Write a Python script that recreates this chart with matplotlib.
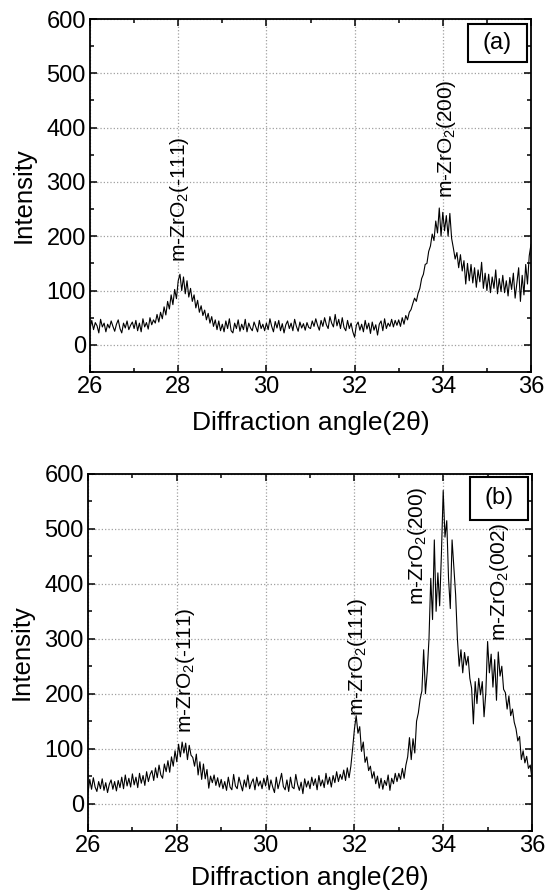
import matplotlib
matplotlib.use("Agg")
import matplotlib.pyplot as plt
import numpy as np
from matplotlib.patches import Rectangle
from matplotlib.ticker import MultipleLocator

plt.rcParams["font.family"] = ["Liberation Sans", "DejaVu Sans"]
plt.rcParams["mathtext.default"] = "regular"

# 2-theta grid, 0.04 deg step from 26 to 36
ANGLE_START, ANGLE_STEP = 26.0, 0.04

# panel (a) intensities, one row per degree
Y_A = [
    30, 45, 28, 41, 35, 22, 47, 33, 40, 24, 38, 31, 44, 34, 25, 38, 46, 30, 22, 40, 31, 44, 28, 36, 42,
    30, 45, 26, 40, 24, 48, 33, 41, 29, 50, 37, 46, 40, 56, 42, 60, 48, 70, 55, 80, 66, 92, 74, 102, 85,
    118, 130, 100, 125, 94, 118, 88, 104, 80, 92, 68, 82, 60, 72, 54, 64, 46, 58, 40, 52, 34, 46, 28, 44, 26,
    38, 24, 44, 30, 48, 26, 22, 40, 30, 46, 25, 38, 28, 47, 24, 40, 31, 26, 42, 33, 24, 45, 30, 38, 26,
    40, 28, 48, 34, 24, 43, 31, 45, 26, 39, 22, 37, 44, 30, 40, 26, 47, 34, 25, 42, 31, 39, 27, 41, 32,
    30, 44, 34, 48, 36, 27, 45, 34, 50, 37, 30, 52, 40, 33, 56, 35, 47, 30, 50, 32, 26, 45, 30, 40, 24,
    14, 36, 42, 27, 38, 24, 45, 29, 40, 21, 42, 27, 37, 18, 38, 44, 26, 48, 30, 40, 34, 47, 33, 45, 36,
    46, 34, 50, 38, 54, 46, 60, 65, 76, 86, 80, 95, 104, 122, 130, 148, 150, 172, 182, 204, 192, 228, 206, 252, 200,
    244, 210, 238, 200, 242, 196, 178, 158, 170, 142, 166, 136, 155, 112, 150, 118, 148, 114, 142, 106, 138, 116, 152, 104, 132,
    100, 130, 96, 125, 104, 138, 94, 122, 98, 128, 96, 118, 90, 124, 102, 132, 86, 114, 142, 80, 128, 92, 148, 112, 164,
    185,
]

# panel (b) intensities
Y_B = [
    20, 44, 26, 47, 30, 22, 40, 27, 45, 24, 38, 20, 35, 43, 26, 40, 23, 42, 29, 48, 27, 52, 32, 46, 30,
    54, 34, 48, 29, 55, 37, 51, 33, 58, 40, 53, 60, 42, 65, 47, 70, 52, 46, 72, 58, 78, 57, 85, 68, 96,
    76, 108, 85, 112, 92, 110, 80, 106, 88, 84, 68, 90, 52, 76, 44, 72, 45, 62, 28, 50, 38, 52, 33, 47, 30,
    44, 27, 40, 24, 48, 30, 25, 53, 32, 27, 48, 35, 23, 43, 30, 52, 27, 38, 45, 25, 48, 32, 41, 27, 46,
    32, 51, 25, 43, 30, 20, 48, 27, 40, 55, 31, 25, 43, 22, 48, 30, 27, 53, 35, 24, 39, 18, 45, 30, 41,
    27, 48, 33, 45, 25, 51, 32, 43, 29, 55, 35, 48, 30, 51, 38, 58, 40, 53, 44, 61, 42, 65, 47, 68, 100,
    135, 160, 128, 140, 95, 112, 75, 85, 60, 68, 46, 58, 36, 50, 28, 46, 26, 42, 33, 52, 24, 46, 36, 55, 40,
    55, 44, 64, 46, 70, 85, 120, 80, 118, 92, 150, 165, 190, 205, 280, 200, 240, 300, 410, 335, 480, 350, 420, 360, 455,
    570, 485, 515, 410, 355, 480, 430, 380, 300, 250, 280, 238, 275, 252, 268, 228, 210, 145, 222, 182, 228, 198, 222, 158, 202,
    295, 238, 272, 212, 262, 188, 276, 232, 250, 208, 202, 172, 196, 160, 172, 148, 136, 114, 122, 80, 96, 74, 86, 64, 70,
    45,
]

X_TICKS = [26, 28, 30, 32, 34, 36]
Y_TICKS = [0, 100, 200, 300, 400, 500, 600]

# (label, angle, intensity at label foot)
PEAKS_A = [("m-ZrO$_2$(-111)", 28.02, 153), ("m-ZrO$_2$(200)", 34.08, 271)]
PEAKS_B = [
    ("m-ZrO$_2$(-111)", 28.2, 128),
    ("m-ZrO$_2$(111)", 32.06, 160),
    ("m-ZrO$_2$(200)", 33.43, 361),
    ("m-ZrO$_2$(002)", 35.26, 296),
]


def _style_axes(ax, tag, box, xpad):
    ax.set_xlim(26, 36)
    ax.set_ylim(-50, 600)
    ax.set_xticks(X_TICKS)
    ax.set_yticks(Y_TICKS)
    ax.xaxis.set_minor_locator(MultipleLocator(1))
    ax.yaxis.set_minor_locator(MultipleLocator(50))
    ax.tick_params(which="both", direction="in", top=True, right=True, labelsize=17, width=1.1)
    ax.tick_params(which="major", length=5, pad=3)
    ax.tick_params(which="minor", length=3)
    ax.grid(True, which="major", linestyle=":", color="#a0a0a0", linewidth=0.9)
    for sp in ax.spines.values():
        sp.set_linewidth(1.3)
    ax.set_xlabel("Diffraction angle(2θ)", fontsize=19, labelpad=xpad)
    ax.set_ylabel("Intensity", fontsize=18.5, labelpad=7.5)
    x0, y0, x1, y1 = box
    ax.add_patch(Rectangle((x0, y0), x1 - x0, y1 - y0, transform=ax.transAxes,
                           fill=True, facecolor="white", edgecolor="black", linewidth=1.5, zorder=5))
    ax.text((x0 + x1) / 2, (y0 + y1) / 2, tag, transform=ax.transAxes,
            ha="center", va="center", fontsize=17, zorder=6)


def _panel(ax, y, peaks, tag, box, xpad):
    x = ANGLE_START + ANGLE_STEP * np.arange(len(y))
    ax.plot(x, y, color="black", linewidth=0.8)
    for label, angle, level in peaks:
        ax.text(angle, level, label, rotation=90, ha="center", va="bottom", fontsize=15)
    _style_axes(ax, tag, box, xpad)


fig = plt.figure(figsize=(5.54, 8.92), dpi=100)
ax_a = fig.add_axes([90 / 554, 1 - 372 / 892, 441 / 554, 353 / 892])
ax_b = fig.add_axes([88 / 554, 1 - 831 / 892, 444 / 554, 357 / 892])
_panel(ax_a, Y_A, PEAKS_A, "(a)", (0.857, 0.878, 0.991, 0.986), 9)
_panel(ax_b, Y_B, PEAKS_B, "(b)", (0.860, 0.871, 0.991, 0.992), 6.5)
fig.savefig("out.png", dpi=100)
